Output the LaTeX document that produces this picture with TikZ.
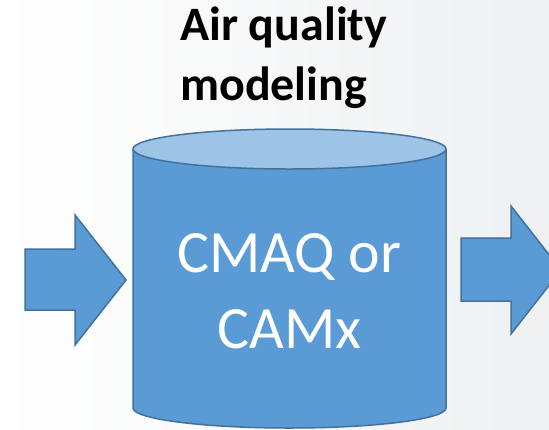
\documentclass[tikz,border=0pt]{standalone}
\usepackage{fontspec}
\setmainfont{Carlito}
\usetikzlibrary{math}
\definecolor{officeblue}{HTML}{5B9BD5}
\definecolor{lightblue}{HTML}{9DC3E6}
\definecolor{edgeblue}{HTML}{41719C}
\definecolor{bggray}{HTML}{EEF0F1}
\tikzstyle{blockarrow} = [fill=officeblue, draw=edgeblue, line width=1.5pt, line join=miter]
\tikzstyle{drum} = [fill=officeblue, draw=edgeblue, line width=1.5pt]

\begin{document}
\begin{tikzpicture}[x=1pt, y=-1pt]

  \tikzmath{\cx = 289.5; \rx = 156.5; \ry = 20; \ytop = 149; \ybot = 408;}

  \clip (0,0) rectangle (549,429);
  \shade[left color=white, right color=bggray] (0,0) rectangle (549,429);

  % cylinder
  \draw[drum] (\cx-\rx,\ytop) -- (\cx-\rx,\ybot)
    arc[start angle=180, end angle=0, x radius=\rx, y radius=\ry] -- (\cx+\rx,\ytop);
  \draw[drum, fill=lightblue] (\cx,\ytop) ellipse[x radius=\rx, y radius=\ry];

  % in and out
  \draw[blockarrow] (25,249) -- (75,249) -- (75,215) -- (126,280) -- (75,345) -- (75,310) -- (25,310) -- cycle;
  \draw[blockarrow] (461,238) -- (511,238) -- (511,206) -- (561,270) -- (511,334) -- (511,301) -- (461,301) -- cycle;

  % base anchor sits on the last line
  \node[font=\bfseries\fontsize{48}{60}\selectfont, align=left, anchor=base west, inner sep=0] (title) at (180,100) {Air quality\\modeling};
  \node[text=white, font=\fontsize{60}{76}\selectfont, align=center, anchor=base, inner sep=0] (model) at (\cx,348) {CMAQ or\\CAMx};

\end{tikzpicture}
\end{document}
